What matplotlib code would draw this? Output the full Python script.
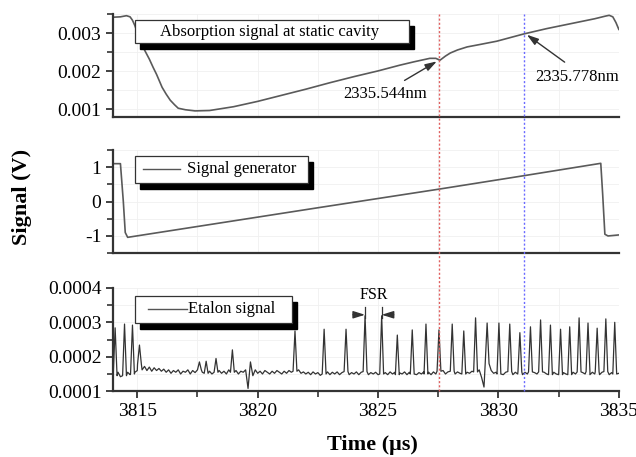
import numpy as np
import matplotlib
matplotlib.use('Agg')
import matplotlib.pyplot as plt
from matplotlib.patches import Rectangle
from matplotlib.lines import Line2D
from matplotlib.ticker import MultipleLocator, FormatStrFormatter
import matplotlib.transforms as mtrans

plt.rcParams['font.family'] = 'Liberation Serif'
plt.rcParams['axes.unicode_minus'] = False

# absorption trace at static cavity (time in us, signal in V)
abs_t = [3814.0, 3814.3, 3814.55, 3814.7, 3814.8, 3814.9, 3815.0, 3815.25, 3815.5,
         3815.66, 3815.8, 3816.03, 3816.2, 3816.37, 3816.55, 3816.7, 3817.0, 3817.4,
         3818.0, 3819.0, 3820.0, 3821.0, 3822.0, 3823.0, 3824.0, 3825.0, 3825.9,
         3826.5, 3827.15, 3827.4, 3827.57, 3827.8, 3828.0, 3828.3, 3828.7, 3829.2,
         3829.93, 3831.05, 3832.0, 3833.0, 3834.0, 3834.45, 3834.6, 3834.75, 3834.88, 3835.0]
abs_v = [0.00342, 0.00343, 0.00346, 0.00343, 0.00334, 0.0032, 0.00302, 0.00262, 0.00232,
         0.0021, 0.00192, 0.00158, 0.0014, 0.00124, 0.00112, 0.00103, 0.00099, 0.00096,
         0.00097, 0.00107, 0.00121, 0.00137, 0.00153, 0.0017, 0.00186, 0.00201, 0.00216,
         0.00225, 0.00234, 0.00234, 0.00229, 0.0024, 0.00248, 0.00256, 0.00264, 0.0027,
         0.00279, 0.00298, 0.00312, 0.00325, 0.00338, 0.00345, 0.00347, 0.00343, 0.00328, 0.0031]

# signal generator ramp (V)
gen_t = [3814.0, 3814.3, 3814.42, 3814.5, 3814.6, 3822.6, 3827.53, 3831.05, 3834.25,
         3834.33, 3834.42, 3834.55, 3835.0]
gen_v = [1.1, 1.1, 0.0, -0.9, -1.04, -0.17, 0.36, 0.75, 1.11, 0.2, -0.95, -1.0, -0.97]

# etalon transmission peaks (us, 1e-4 V)
peak_t = [3814.08, 3814.47, 3814.80, 3815.09, 3817.58, 3817.86, 3818.27, 3818.95, 3821.55,
          3822.76, 3823.67, 3824.46, 3825.15, 3825.80, 3826.42, 3826.99, 3827.53, 3828.08,
          3828.56, 3829.05, 3829.53, 3830.02, 3830.47, 3830.89, 3831.33, 3831.75, 3832.16,
          3832.58, 3832.96, 3833.35, 3833.72, 3834.10, 3834.46, 3834.83]
peak_v = [2.84, 2.95, 2.92, 2.34, 1.85, 1.87, 1.95, 2.2, 2.75,
          2.8, 2.8, 3.19, 3.19, 2.63, 2.78, 2.95, 2.78, 2.95,
          2.75, 3.13, 2.98, 2.98, 2.95, 2.7, 2.87, 3.07, 2.92,
          2.8, 2.87, 3.13, 2.98, 2.83, 3.1, 3.0]

# etalon background, one value every 0.1 us from 3814 (1e-4 V), one row per us
base_v = [1.50, 1.45, 1.55, 1.42, 1.52, 1.45, 1.55, 1.48, 1.50, 1.55,
          1.60, 1.78, 1.62, 1.72, 1.60, 1.70, 1.58, 1.68, 1.60, 1.66,
          1.58, 1.64, 1.55, 1.62, 1.52, 1.60, 1.55, 1.62, 1.50, 1.58,
          1.55, 1.62, 1.50, 1.60, 1.54, 1.48, 1.62, 1.55, 1.60, 1.52,
          1.58, 1.50, 1.62, 1.55, 1.60, 1.52, 1.58, 1.50, 1.62, 1.55,
          1.52, 1.60, 1.50, 1.58, 1.55, 1.62, 1.08, 1.85, 1.45, 1.62,
          1.52, 1.58, 1.50, 1.60, 1.55, 1.50, 1.58, 1.52, 1.60, 1.55,
          1.50, 1.58, 1.52, 1.60, 1.55, 1.50, 1.58, 1.62, 1.52, 1.56,
          1.50, 1.55, 1.48, 1.56, 1.50, 1.54, 1.46, 1.55, 1.50, 1.56,
          1.48, 1.55, 1.50, 1.56, 1.48, 1.54, 1.50, 1.57, 1.48, 1.54,
          1.50, 1.56, 1.48, 1.55, 1.50, 1.57, 1.48, 1.54, 1.50, 1.55,
          1.48, 1.56, 1.50, 1.54, 1.48, 1.56, 1.50, 1.55, 1.48, 1.53,
          1.50, 1.56, 1.48, 1.55, 1.50, 1.57, 1.48, 1.54, 1.50, 1.56,
          1.50, 1.55, 1.48, 1.56, 1.50, 1.58, 1.52, 1.60, 1.50, 1.56,
          1.52, 1.58, 1.50, 1.56, 1.52, 1.58, 1.50, 1.55, 1.52, 1.58,
          1.50, 1.56, 1.62, 1.40, 1.12, 1.80, 1.50, 1.60, 1.52, 1.55,
          1.50, 1.56, 1.48, 1.55, 1.52, 1.57, 1.48, 1.55, 1.50, 1.56,
          1.48, 1.55, 1.50, 1.56, 1.48, 1.54, 1.50, 1.56, 1.48, 1.55,
          1.50, 1.56, 1.48, 1.55, 1.50, 1.57, 1.48, 1.54, 1.50, 1.56,
          1.48, 1.55, 1.50, 1.56, 1.48, 1.54, 1.50, 1.57, 1.48, 1.55,
          1.50, 1.56, 1.48, 1.55, 1.50, 1.57, 1.48, 1.54, 1.50, 1.56,
          1.52]
base_t = 3814.0 + 0.1 * np.arange(len(base_v))

mark_red = 3827.53
mark_blue = 3831.05

# build the etalon trace: background points plus a narrow spike for each peak
hw = 0.08
pt = np.array(peak_t)
et_t, et_v = [], []
for t, v in zip(base_t, base_v):
    if np.min(np.abs(pt - t)) > hw:
        et_t.append(t)
        et_v.append(v)
for t, v in zip(peak_t, peak_v):
    b = base_v[int(np.argmin(np.abs(base_t - t)))]
    et_t += [t - hw, t, t + hw]
    et_v += [b, v, b]
order = np.argsort(et_t)
et_t = np.array(et_t)[order]
et_v = np.array(et_v)[order] * 1e-4

fig = plt.figure(figsize=(6.36, 4.57), dpi=100)
L, W = 0.178, 0.795
ax1 = fig.add_axes([L, 0.744, W, 0.225])
ax2 = fig.add_axes([L, 0.446, W, 0.226], sharex=ax1)
ax3 = fig.add_axes([L, 0.144, W, 0.226], sharex=ax1)

spine_c = '#333333'
for ax in (ax1, ax2, ax3):
    for s in ('top', 'right'):
        ax.spines[s].set_visible(False)
    for s in ('left', 'bottom'):
        ax.spines[s].set_color(spine_c)
        ax.spines[s].set_linewidth(1.6)
    ax.grid(True, which='both', color='#f0f0f0', lw=0.6)
    ax.set_axisbelow(True)
    ax.tick_params(which='major', direction='out', length=5, width=1.3, color=spine_c,
                   labelsize=14)
    ax.tick_params(which='minor', direction='out', length=4, width=1.2, color=spine_c)
    ax.xaxis.set_major_locator(MultipleLocator(5))
    ax.xaxis.set_minor_locator(MultipleLocator(2.5))
    ax.yaxis.set_major_formatter(FormatStrFormatter('%g'))

for ax in (ax1, ax2):
    ax.tick_params(axis='x', which='both', length=0, labelbottom=False)

ax1.plot(abs_t, abs_v, color='#5a5a5a', lw=1.2)
ax1.set_xlim(3814, 3835)
ax1.set_ylim(0.0008, 0.0035)
ax1.yaxis.set_major_locator(MultipleLocator(0.001))
ax1.yaxis.set_minor_locator(MultipleLocator(0.0005))

ax2.plot(gen_t, gen_v, color='#5a5a5a', lw=1.2)
ax2.set_ylim(-1.5, 1.5)
ax2.yaxis.set_major_locator(MultipleLocator(1))
ax2.yaxis.set_minor_locator(MultipleLocator(0.5))

ax3.plot(et_t, et_v, color='#333333', lw=0.9)
ax3.set_ylim(0.0001, 0.0004)
ax3.yaxis.set_major_locator(MultipleLocator(0.0001))
ax3.yaxis.set_minor_locator(MultipleLocator(0.00005))


def shadow_box(ax, x0, y0, w, h, text, line=None, tx=None):
    # legend-like box with a solid black drop shadow
    ax.add_patch(Rectangle((x0 + 0.0099, y0 - 0.058), w, h, transform=ax.transAxes,
                           facecolor='black', edgecolor='black', zorder=5, clip_on=False))
    ax.add_patch(Rectangle((x0, y0), w, h, transform=ax.transAxes, facecolor='white',
                           edgecolor='#333333', lw=0.9, zorder=6, clip_on=False))
    yc = y0 + h / 2
    if line is not None:
        ax.add_line(Line2D(line, [yc, yc], transform=ax.transAxes, color='#555555',
                           lw=1.0, zorder=7))
        ax.text(tx, yc, text, transform=ax.transAxes, fontsize=12, ha='left',
                va='center', zorder=7)
    else:
        ax.text(x0 + w / 2 - 0.005, yc, text, transform=ax.transAxes, fontsize=12,
                ha='center', va='center', zorder=7)


shadow_box(ax1, 0.0435, 0.718, 0.5415, 0.223, 'Absorption signal at static cavity')
shadow_box(ax2, 0.0435, 0.68, 0.342, 0.262, 'Signal generator', line=[0.059, 0.132], tx=0.146)
shadow_box(ax3, 0.0435, 0.66, 0.31, 0.262, 'Etalon signal', line=[0.069, 0.146], tx=0.148)

arrow = dict(arrowstyle='-|>,head_length=0.7,head_width=0.22', color='#333333', lw=1.0,
             shrinkA=0, shrinkB=0)
ax1.annotate('', xy=(3827.44, 0.00226), xytext=(3826.1, 0.00176), arrowprops=arrow)
ax1.text(3825.29, 0.0014, '2335.544nm', fontsize=12, ha='center', va='center')
ax1.annotate('', xy=(3831.18, 0.00296), xytext=(3832.75, 0.00224), arrowprops=arrow)
ax1.text(3833.25, 0.00184, '2335.778nm', fontsize=12, ha='center', va='center')

# free spectral range marker between two neighbouring etalon peaks
fsr_a, fsr_b = peak_t[11], peak_t[12]
fsr_y = 0.000322
ax3.plot([fsr_a, fsr_a], [fsr_y - 0.00001, fsr_y + 0.000022], color='#333333', lw=0.9)
ax3.plot([fsr_b, fsr_b], [fsr_y - 0.00001, fsr_y + 0.000022], color='#333333', lw=0.9)
ax3.annotate('', xy=(fsr_a, fsr_y), xytext=(fsr_a - 0.5, fsr_y), arrowprops=arrow)
ax3.annotate('', xy=(fsr_b, fsr_y), xytext=(fsr_b + 0.5, fsr_y), arrowprops=arrow)
ax3.text((fsr_a + fsr_b) / 2, 0.00038, 'FSR', fontsize=11.5, ha='center', va='center')

# dotted markers running through all three panels
tr = mtrans.blended_transform_factory(ax3.transData, fig.transFigure)
for xm, c in ((mark_red, '#e06060'), (mark_blue, '#6a6aff')):
    ax3.plot([xm, xm], [0.144, 0.969], transform=tr, color=c, lw=1.0, ls=(0, (1.5, 1.5)),
             clip_on=False, zorder=8)

fig.text(0.035, 0.57, 'Signal (V)', rotation=90, fontsize=16, fontweight='bold',
         ha='center', va='center')
fig.text(0.585, 0.026, 'Time (μs)', fontsize=16, fontweight='bold', ha='center', va='center')

fig.savefig('out.png', dpi=100)
